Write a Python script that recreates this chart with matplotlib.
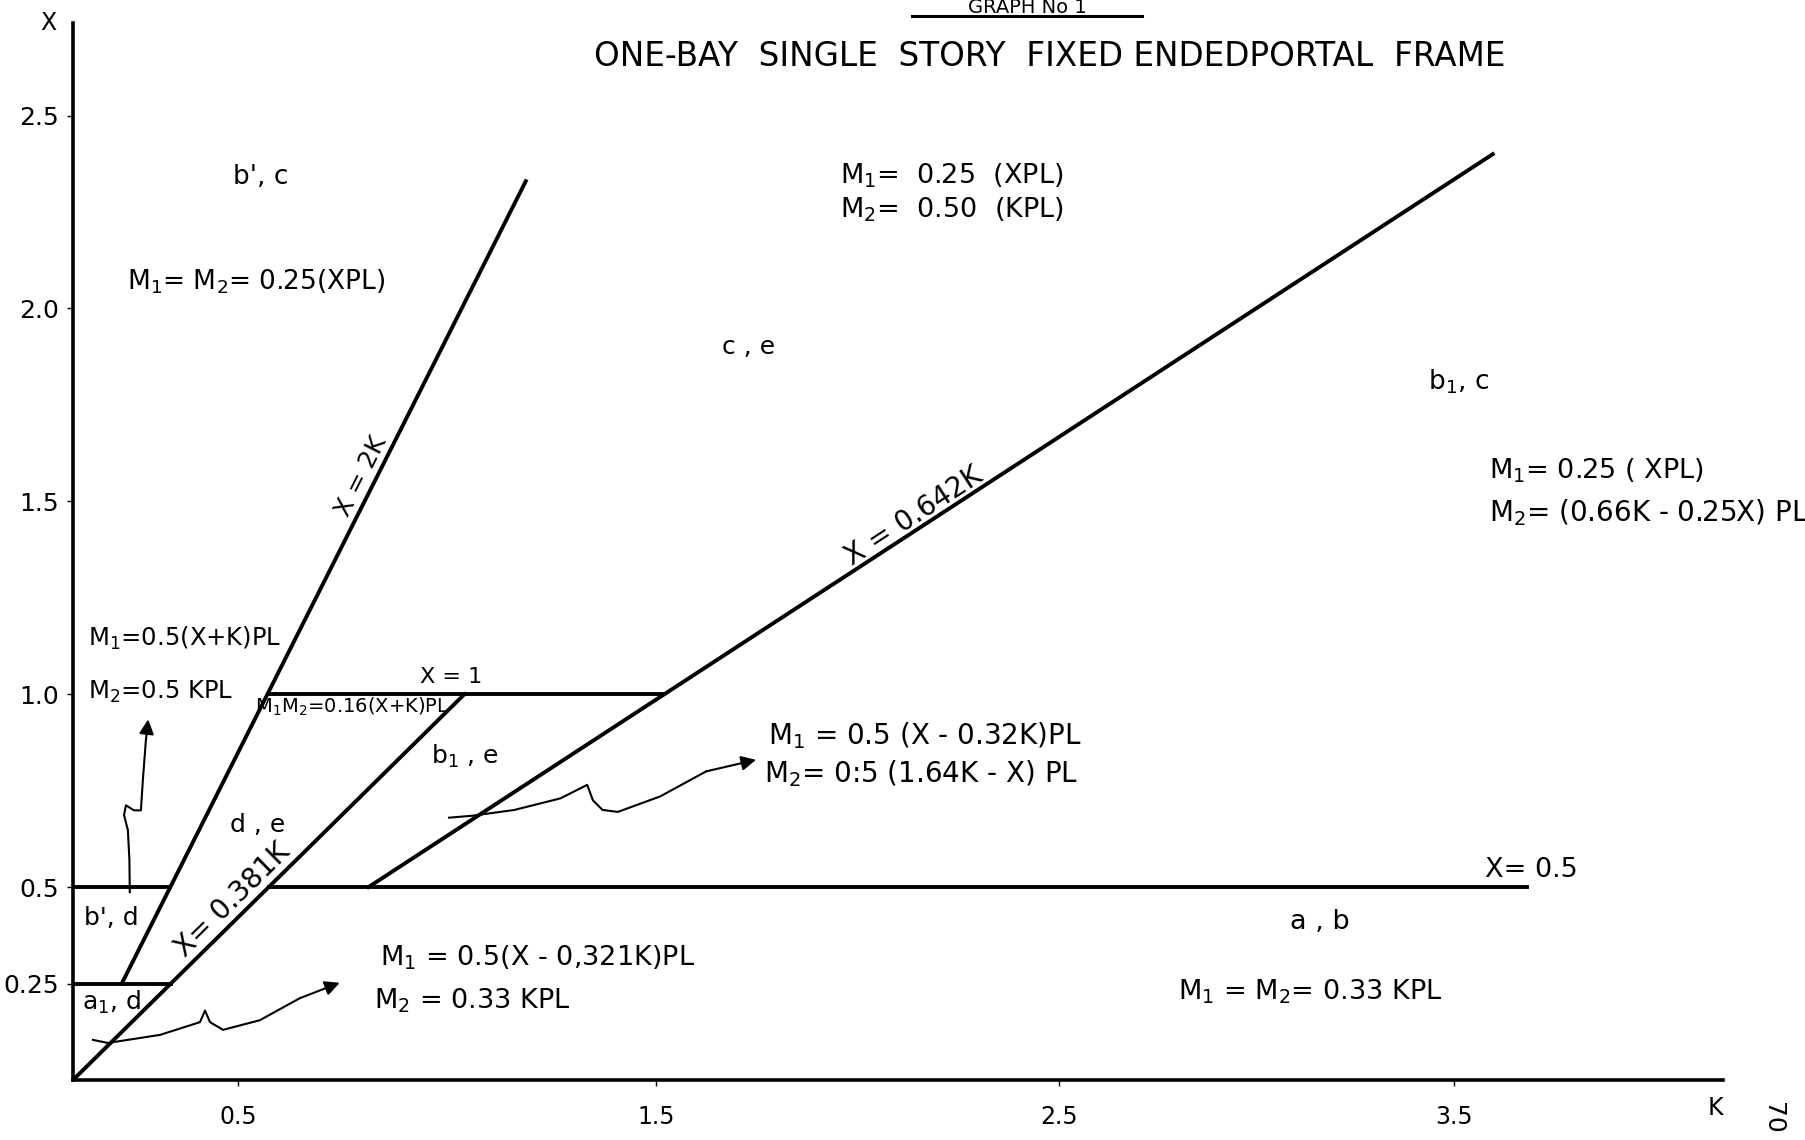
import numpy as np
import matplotlib
matplotlib.use("Agg")
import matplotlib.pyplot as plt

plt.rcParams['font.family'] = ['DejaVu Sans']
plt.rcParams['mathtext.default'] = 'regular'

# boundary lines of the chart (K, X)
k_2k = [0.127, 1.18]
x_2k = [0.25, 2.33]
k_381 = [0.0, 1.02]
x_381 = [0.0, 1.0]
k_642 = [0.77, 3.70]
x_642 = [0.5, 2.40]

# horizontal limits: (X level, K start, K end)
h_levels = [1.0, 0.5, 0.5, 0.25]
h_start = [0.507, 0.0, 0.51, 0.0]
h_end = [1.54, 0.254, 3.79, 0.255]

# hand drawn wavy arrows
arr1_k = [0.148, 0.147, 0.143, 0.133, 0.138, 0.159, 0.177, 0.182, 0.190, 0.196]
arr1_x = [0.487, 0.570, 0.648, 0.687, 0.712, 0.699, 0.699, 0.777, 0.881, 0.935]
arr2_k = [0.052, 0.091, 0.227, 0.331, 0.344, 0.357, 0.391, 0.487, 0.591, 0.695]
arr2_x = [0.104, 0.096, 0.117, 0.150, 0.180, 0.150, 0.130, 0.155, 0.212, 0.252]
arr3_k = [0.98, 1.04, 1.15, 1.27, 1.34, 1.355, 1.38, 1.42, 1.53, 1.65, 1.78]
arr3_x = [0.68, 0.685, 0.70, 0.73, 0.765, 0.725, 0.70, 0.695, 0.735, 0.80, 0.83]

# axis ticks
xtick_pos = [0.43, 1.52, 2.57, 3.60]
xtick_lab = ['0.5', '1.5', '2.5', '3.5']
ytick_pos = [2.5, 2.0, 1.5, 1.0, 0.5, 0.25]
ytick_lab = ['2.5', '2.0', '1.5', '1.0', '0.5', '0.25']

# region labels and formulas: (K, X, text, ha, size)
notes = [
    (0.49, 2.34, "b', c", 'center', 19),
    (0.14, 2.07, "M$_1$= M$_2$= 0.25(XPL)", 'left', 19),
    (2.00, 2.345, "M$_1$=  0.25  (XPL)", 'left', 19.5),
    (2.00, 2.255, "M$_2$=  0.50  (KPL)", 'left', 19.5),
    (1.76, 1.90, "c , e", 'center', 18),
    (3.61, 1.81, "b$_1$, c", 'center', 19),
    (3.69, 1.58, "M$_1$= 0.25 ( XPL)", 'left', 19.5),
    (3.69, 1.47, "M$_2$= (0.66K - 0.25X) PL", 'left', 20),
    (0.04, 1.145, "M$_1$=0.5(X+K)PL", 'left', 17.5),
    (0.04, 1.005, "M$_2$=0.5 KPL", 'left', 17.5),
    (0.475, 0.968, "M$_1$M$_2$=0.16(X+K)PL", 'left', 14),
    (1.02, 0.84, "b$_1$ , e", 'center', 18),
    (0.48, 0.66, "d , e", 'center', 18),
    (0.10, 0.42, "b', d", 'center', 18),
    (0.10, 0.20, "a$_1$, d", 'center', 18),
    (1.81, 0.892, "M$_1$ = 0.5 (X - 0.32K)PL", 'left', 20),
    (1.80, 0.793, "M$_2$= 0:5 (1.64K - X) PL", 'left', 20),
    (0.80, 0.317, "M$_1$ = 0.5(X - 0,321K)PL", 'left', 19.5),
    (0.785, 0.205, "M$_2$ = 0.33 KPL", 'left', 19.5),
    (3.25, 0.41, "a , b", 'center', 19.5),
    (2.88, 0.23, "M$_1$ = M$_2$= 0.33 KPL", 'left', 19.5),
    (3.80, 0.545, "X= 0.5", 'center', 19.5),
    (0.985, 1.045, "X = 1", 'center', 16),
]

fig = plt.figure(figsize=(18.05, 11.40), dpi=100)
ax = fig.add_axes([73 / 1805, 60 / 1140, 1650 / 1805, 1057 / 1140])
ax.set_xlim(0, 4.30)
ax.set_ylim(0, 2.74)

lw = 2.8
ax.plot(k_2k, x_2k, c='black', lw=lw)
ax.plot(k_381, x_381, c='black', lw=lw)
ax.plot(k_642, x_642, c='black', lw=lw)
for lev, a, b in zip(h_levels, h_start, h_end):
    ax.plot([a, b], [lev, lev], c='black', lw=lw)

# wavy arrows
for kk, xx in [(arr1_k, arr1_x), (arr2_k, arr2_x), (arr3_k, arr3_x)]:
    ax.plot(kk[:-1], xx[:-1], c='black', lw=1.5)
    ax.annotate('', xy=(kk[-1], xx[-1]), xytext=(kk[-2], xx[-2]),
                arrowprops=dict(arrowstyle='-|>', color='black', lw=1.5,
                                mutation_scale=22, shrinkA=0, shrinkB=0))

# labels along the lines
def line_label(k, x, slope, txt, size):
    ang = np.degrees(np.arctan(slope * 386 / 384))
    ax.text(k, x, txt, rotation=ang, rotation_mode='anchor', ha='center',
            va='bottom', fontsize=size)

line_label(0.78, 1.55, (x_2k[1] - x_2k[0]) / (k_2k[1] - k_2k[0]), "X = 2K", 18)
line_label(2.21, 1.43, (x_642[1] - x_642[0]) / (k_642[1] - k_642[0]), "X = 0.642K", 20)
line_label(0.44, 0.44, (x_381[1] - x_381[0]) / (k_381[1] - k_381[0]), "X= 0.381K", 20)

for k, x, t, ha, s in notes:
    ax.text(k, x, t, ha=ha, va='center', fontsize=s)

# axes styling
for sp in ['top', 'right']:
    ax.spines[sp].set_visible(False)
ax.spines['left'].set_linewidth(2.6)
ax.spines['bottom'].set_linewidth(2.6)
ax.set_xticks(xtick_pos)
ax.set_xticklabels(xtick_lab, fontsize=17)
ax.set_yticks(ytick_pos)
ax.set_yticklabels(ytick_lab, fontsize=18)
ax.tick_params(axis='both', length=4, width=1, direction='out', pad=6)
ax.tick_params(axis='x', pad=14)

fig.text(48 / 1805, 1 - 23 / 1140, "X", ha='center', va='center', fontsize=17)
fig.text(1715 / 1805, 1 - 1108 / 1140, "K", ha='center', va='center', fontsize=17)
fig.text(1773 / 1805, 1 - 1118 / 1140, "70", ha='center', va='center',
         fontsize=18, rotation=270)

# title block
fig.text(1027 / 1805, 1 - 13 / 1140, "GRAPH No 1", ha='center', va='baseline',
         fontsize=14)
fig.add_artist(plt.Line2D([912 / 1805, 1142 / 1805], [1 - 16 / 1140, 1 - 16 / 1140],
                          color='black', lw=2.2))
fig.text(1050 / 1805, 1 - 56 / 1140, "ONE-BAY  SINGLE  STORY  FIXED ENDEDPORTAL  FRAME",
         ha='center', va='center', fontsize=23.5)

plt.savefig("out.png", dpi=100)
